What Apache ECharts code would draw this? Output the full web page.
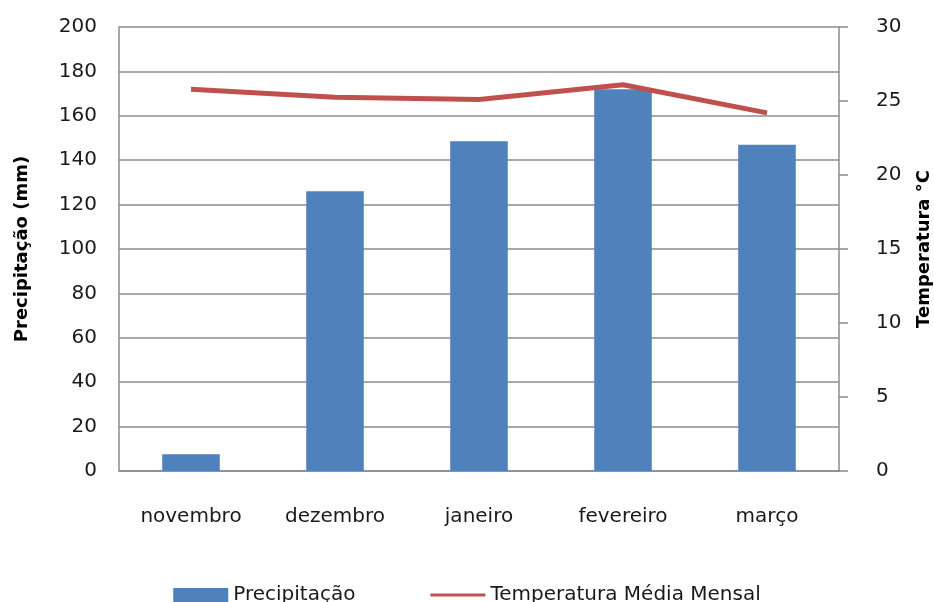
<!DOCTYPE html>
<html>
<head>
<meta charset="utf-8">
<script src="https://cdn.jsdelivr.net/npm/echarts@6/dist/echarts.min.js"></script>
<style>
  html, body { margin: 0; padding: 0; background: #fff; }
  #main { width: 934px; height: 602px; }
</style>
</head>
<body>
<div id="main"></div>
<script>
var months = ['novembro', 'dezembro', 'janeiro', 'fevereiro', 'março'];
var precipitacao = [7.5, 126, 148.5, 172, 147];
var temperatura = [25.8, 25.25, 25.1, 26.1, 24.2];

var gray = '#8c8c8c';
var font = 'DejaVu Sans';

var myChart = echarts.init(document.getElementById('main'));

var option = {
    backgroundColor: '#fff',
    textStyle: { fontFamily: font },
    grid: {
        left: 119,
        right: 95,
        top: 27,
        bottom: 131,
        outerBoundsMode: 'none'
    },
    legend: {
        top: 580,
        left: 'center',
        itemWidth: 55,
        itemHeight: 14,
        itemGap: 75,
        textStyle: { fontSize: 20, color: '#1a1a1a', fontFamily: font },
        data: [
            { name: 'Precipitação', icon: 'rect' },
            // plain line icon, no marker
            { name: 'Temperatura Média Mensal', icon: 'path://M0,0M55,14M0,5.5L55,5.5L55,8.5L0,8.5Z' }
        ]
    },
    xAxis: {
        type: 'category',
        data: months,
        axisLine: { lineStyle: { color: gray, width: 1.5 } },
        axisTick: { show: false },
        axisLabel: { fontSize: 20, color: '#1a1a1a', margin: 36 }
    },
    yAxis: [{
        type: 'value',
        min: 0,
        max: 200,
        interval: 20,
        name: 'Precipitação (mm)',
        nameLocation: 'middle',
        nameRotate: 90,
        nameGap: 88,
        nameTextStyle: { fontSize: 18, fontWeight: 'bold', color: '#000' },
        axisLine: { show: true, lineStyle: { color: gray, width: 1.5 } },
        axisTick: { show: false },
        axisLabel: { fontSize: 20, color: '#1a1a1a', margin: 22 },
        splitLine: { lineStyle: { color: gray, width: 1.5 } }
    }, {
        type: 'value',
        min: 0,
        max: 30,
        interval: 5,
        position: 'right',
        name: 'Temperatura °C',
        nameLocation: 'middle',
        nameRotate: 90,
        nameGap: 76,
        nameMoveOverlap: false,
        nameTextStyle: { fontSize: 18, fontWeight: 'bold', color: '#000' },
        axisLine: { show: true, lineStyle: { color: gray, width: 1.5 } },
        axisTick: { show: true, length: 9, lineStyle: { color: gray, width: 1.5 } },
        axisLabel: {
            fontSize: 20,
            color: '#1a1a1a',
            margin: 24,
            formatter: '{t|{value}}',
            rich: { t: { fontSize: 20, color: '#1a1a1a', fontFamily: font, padding: [0, 0, 0, 13] } }
        },
        splitLine: { show: false }
    }],
    series: [{
        name: 'Precipitação',
        type: 'bar',
        barWidth: '40%',
        yAxisIndex: 0,
        itemStyle: { color: '#4F81BD' },
        data: precipitacao
    }, {
        name: 'Temperatura Média Mensal',
        type: 'line',
        yAxisIndex: 1,
        symbol: 'none',
        lineStyle: { color: '#C0504D', width: 5 },
        itemStyle: { color: '#C0504D' },
        data: temperatura
    }]
};

myChart.setOption(option);
</script>
</body>
</html>
